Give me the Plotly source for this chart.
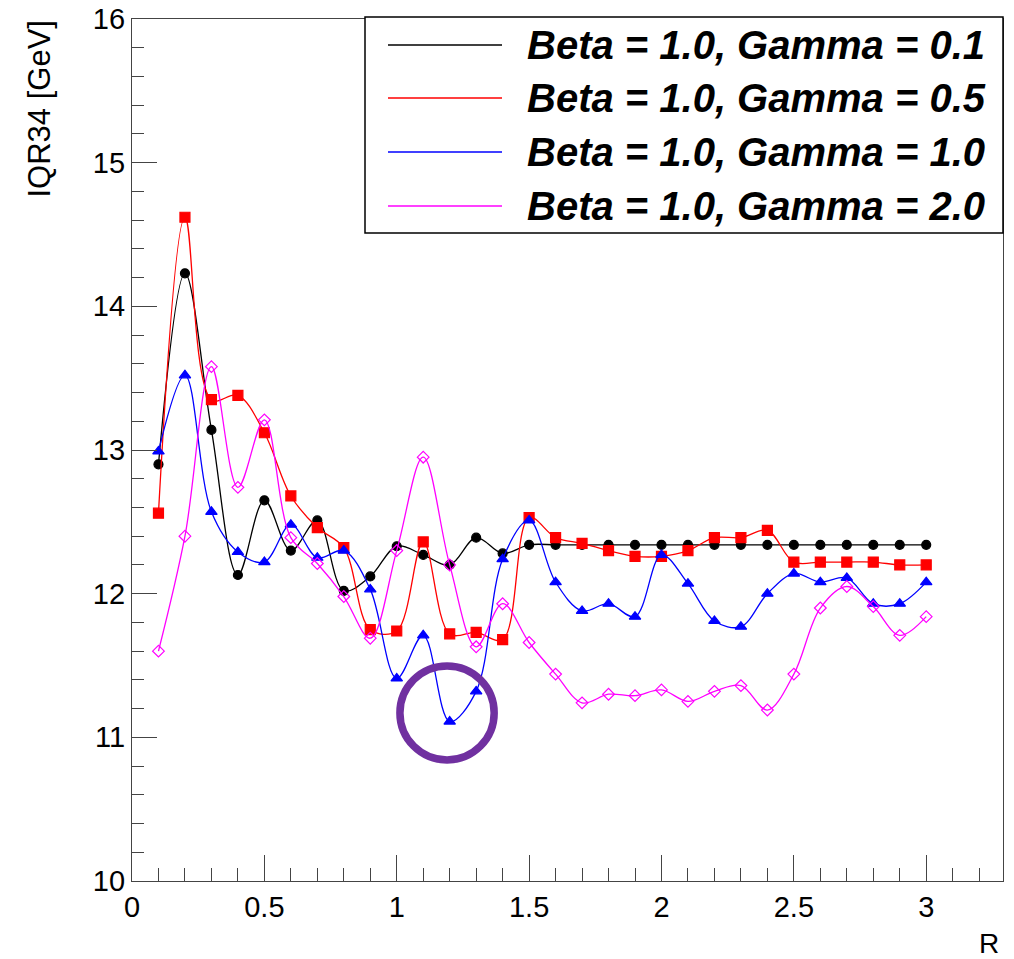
import plotly.graph_objects as go

# ---------------- data ----------------
R = [0.1, 0.2, 0.3, 0.4, 0.5, 0.6, 0.7, 0.8, 0.9, 1.0,
     1.1, 1.2, 1.3, 1.4, 1.5, 1.6, 1.7, 1.8, 1.9, 2.0,
     2.1, 2.2, 2.3, 2.4, 2.5, 2.6, 2.7, 2.8, 2.9, 3.0]

gamma_01 = [12.90, 14.23, 13.14, 12.13, 12.65, 12.30, 12.51, 12.02, 12.12, 12.33,
            12.27, 12.20, 12.39, 12.28, 12.34, 12.34, 12.34, 12.34, 12.34, 12.34,
            12.34, 12.34, 12.34, 12.34, 12.34, 12.34, 12.34, 12.34, 12.34, 12.34]

gamma_05 = [12.56, 14.62, 13.35, 13.38, 13.12, 12.68, 12.46, 12.32, 11.75, 11.74,
            12.36, 11.72, 11.73, 11.68, 12.53, 12.39, 12.35, 12.30, 12.26, 12.26,
            12.30, 12.39, 12.39, 12.44, 12.22, 12.22, 12.22, 12.22, 12.20, 12.20]

gamma_10 = [12.99, 13.52, 12.57, 12.29, 12.22, 12.48, 12.25, 12.30, 12.03, 11.41,
            11.71, 11.11, 11.32, 12.24, 12.51, 12.08, 11.88, 11.93, 11.84, 12.27,
            12.07, 11.81, 11.77, 12.00, 12.14, 12.08, 12.11, 11.93, 11.93, 12.08]

gamma_20 = [11.60, 12.40, 13.58, 12.74, 13.21, 12.39, 12.21, 11.98, 11.69, 12.30,
            12.95, 12.20, 11.63, 11.93, 11.66, 11.44, 11.24, 11.30, 11.29, 11.33,
            11.25, 11.32, 11.36, 11.19, 11.44, 11.90, 12.05, 11.91, 11.71, 11.84]

series_labels = ["Beta = 1.0, Gamma = 0.1", "Beta = 1.0, Gamma = 0.5",
                 "Beta = 1.0, Gamma = 1.0", "Beta = 1.0, Gamma = 2.0"]
series_values = [gamma_01, gamma_05, gamma_10, gamma_20]
series_colors = ["#000000", "#ff0000", "#0000ff", "#ff00ff"]
series_symbols = ["circle", "square", "triangle-up", "diamond-open"]
series_msize = [9, 10, 10, 9]

x_title = "R"
y_title = "IQR34 [GeV]"

# highlighted region (circle around the minimum of Gamma = 1.0)
circle_center = (1.19, 11.17)
circle_radius = (0.178, 0.327)

# ---------------- layout geometry ----------------
W, H = 1014, 959
ML, MR, MT, MB = 132, 11, 19, 78
PL, PR, PT, PB = ML, W - MR, MT, H - MB


def px(x):
    return (x - PL) / (PR - PL)


def py(y):
    return (PB - y) / (PB - PT)


fig = go.Figure()
for lab, vals, col, sym, ms in zip(series_labels, series_values, series_colors,
                                   series_symbols, series_msize):
    fig.add_trace(go.Scatter(
        x=R, y=vals, name=lab, mode="lines+markers",
        line=dict(color=col, width=1.3, shape="spline", smoothing=1.0),
        marker=dict(color=col, symbol=sym, size=ms,
                    line=dict(color=col, width=1.2)),
        showlegend=False,
    ))

# circle highlight
fig.add_shape(type="circle", xref="x", yref="y",
              x0=circle_center[0] - circle_radius[0], x1=circle_center[0] + circle_radius[0],
              y0=circle_center[1] - circle_radius[1], y1=circle_center[1] + circle_radius[1],
              line=dict(color="#7030a0", width=7.5))

# manual legend (ROOT style box)
fig.add_shape(type="rect", xref="paper", yref="paper",
              x0=px(365), x1=px(1003), y0=py(233), y1=py(17),
              line=dict(color="#000000", width=1.5), fillcolor="white", layer="above")
row_y = [45, 98, 152, 206]
for lab, col, yy in zip(series_labels, series_colors, row_y):
    fig.add_shape(type="line", xref="paper", yref="paper",
                  x0=px(388), x1=px(502), y0=py(yy), y1=py(yy),
                  line=dict(color=col, width=1.3), layer="above")
    fig.add_annotation(xref="paper", yref="paper", x=px(525), y=py(yy),
                       xanchor="left", yanchor="middle", showarrow=False,
                       text="<b><i>" + lab + "</i></b>",
                       font=dict(family="Liberation Sans, Arial, sans-serif",
                                 size=40, color="black"))

# axis titles
fig.add_annotation(xref="paper", yref="paper", x=px(1001), y=py(943),
                   xanchor="right", yanchor="middle", showarrow=False,
                   text=x_title,
                   font=dict(family="Liberation Sans, Arial, sans-serif", size=28, color="black"))
fig.add_annotation(xref="paper", yref="paper", x=px(39), y=py(19),
                   xanchor="center", yanchor="top", showarrow=False, textangle=-90,
                   text=y_title,
                   font=dict(family="Liberation Sans, Arial, sans-serif",
                             size=31, color="black"))

axis_common = dict(showgrid=False, zeroline=False, showline=True, mirror=True,
                   automargin=False,
                   linecolor="#444444", linewidth=1.3, ticks="inside",
                   tickcolor="#444444", tickwidth=1.2,
                   tickfont=dict(family="Liberation Sans, Arial, sans-serif", size=29, color="black"))

fig.update_layout(
    width=W, height=H,
    margin=dict(l=ML, r=MR, t=MT, b=MB, autoexpand=False),
    paper_bgcolor="white", plot_bgcolor="white",
    xaxis=dict(range=[0, 3.29], tick0=0, dtick=0.5, ticklen=26,
               minor=dict(dtick=0.1, ticklen=13, ticks="inside", tickcolor="#444444", tickwidth=1.2),
               **axis_common),
    yaxis=dict(range=[10, 16], tick0=10, dtick=1, ticklen=25,
               minor=dict(dtick=0.2, ticklen=12, ticks="inside", tickcolor="#444444", tickwidth=1.2),
               **axis_common),
)

fig.write_html("out.html")
